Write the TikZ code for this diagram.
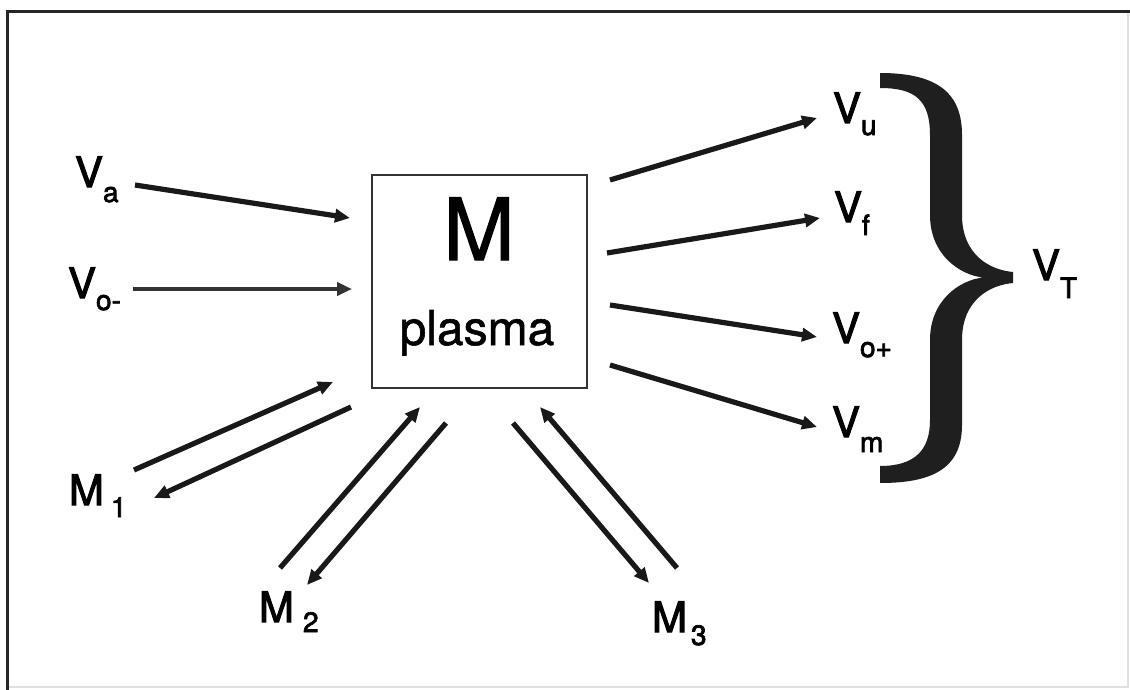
\documentclass[tikz,border=0pt]{standalone}
\usepackage{fontspec}
\setmainfont{TeX Gyre Heros}
\newfontfamily\medfont[FakeBold=2.5]{TeX Gyre Heros}
\newfontfamily\boxfont[FakeBold=1.2]{TeX Gyre Heros}
\usetikzlibrary{arrows.meta}
\newcommand{\sublab}[4]{{\medfont\fontsize{42}{42}\selectfont #1}\kern#4\raisebox{-#3}{\medfont\fontsize{28}{28}\selectfont #2}}
\begin{document}
\begin{tikzpicture}[x=1pt,y=-1pt,
  flow/.style={line width=5.2pt, black!90, -{Triangle[length=15pt,width=13pt]}},
  lab/.style={anchor=base west, inner sep=0pt, outer sep=0pt},
  framedark/.style={line width=3pt, black!85},
  framelight/.style={line width=1.5pt, black!12},
  bracefill/.style={fill=black!88}]
\useasboundingbox (0,0) rectangle (1130,690);
\fill[white] (0,0) rectangle (1130,690);
% frame
\draw[framelight] (1128,12) -- (1128,687) -- (7,687);
\draw[framedark] (7,690) -- (7,12) -- (1130,12);
% central box
\node[draw=black!80, line width=1.4pt, minimum width=215pt, minimum height=213pt, inner sep=0pt] (box) at (479.5,281.5) {};
\node[anchor=base, inner sep=0pt] (bigM) at (479,260) {\boxfont\fontsize{86}{86}\selectfont M};
\node[anchor=base, inner sep=0pt] (plasma) at (477,345) {\boxfont\fontsize{48}{48}\selectfont plasma};
% labels
\node[lab] (Va) at (75,187) {\sublab{V}{a}{15pt}{0pt}};
\node[lab] (Vom) at (68,298) {\sublab{V}{o-}{12pt}{0pt}};
\node[lab] (Vu) at (833,123) {\sublab{V}{u}{12pt}{0pt}};
\node[lab] (Vf) at (834,222) {\sublab{V}{f}{13pt}{0pt}};
\node[lab] (Vop) at (832,343) {\sublab{V}{o+}{14pt}{0pt}};
\node[lab] (Vm) at (832,437) {\sublab{V}{m}{15pt}{0pt}};
\node[lab] (VT) at (1032,280) {\sublab{V}{T}{18pt}{0pt}};
\node[lab] (M1) at (69,505) {\sublab{M}{1}{12pt}{7pt}};
\node[lab] (M2) at (259,622) {\sublab{M}{2}{10pt}{9pt}};
\node[lab] (M3) at (652,632) {\sublab{M}{3}{13pt}{4pt}};
% arrow end points
\coordinate (a1) at (135,185);  \coordinate (a2) at (350,218);
\coordinate (b1) at (133,289);  \coordinate (b2) at (352,289);
\coordinate (u1) at (610,180);  \coordinate (u2) at (817,118);
\coordinate (f1) at (607,253);  \coordinate (f2) at (820,218);
\coordinate (p1) at (610,305);  \coordinate (p2) at (817,337);
\coordinate (m1) at (610,365);  \coordinate (m2) at (817,427);
\coordinate (c1) at (134,470);  \coordinate (c2) at (333,382);
\coordinate (d1) at (351,407);  \coordinate (d2) at (154,498);
\coordinate (e1) at (280,568);  \coordinate (e2) at (420,407);
\coordinate (g1) at (446,423);  \coordinate (g2) at (307,585);
\coordinate (h1) at (513,423);  \coordinate (h2) at (649,583);
\coordinate (k1) at (677,568);  \coordinate (k2) at (540,407);
% arrows
\draw[flow] (a1) -- (a2);
\draw[flow, line width=4.6pt, black!80] (b1) -- (b2);
\draw[flow] (u1) -- (u2);
\draw[flow] (f1) -- (f2);
\draw[flow] (p1) -- (p2);
\draw[flow] (m1) -- (m2);
\draw[flow] (c1) -- (c2);
\draw[flow] (d1) -- (d2);
\draw[flow] (e1) -- (e2);
\draw[flow] (g1) -- (g2);
\draw[flow] (h1) -- (h2);
\draw[flow] (k1) -- (k2);
% brace
\fill[bracefill] (880,73)
  .. controls (940,73) and (962,95) .. (962,135)
  -- (962,215)
  .. controls (962,255) and (990,270) .. (1013,272)
  -- (1013,283)
  .. controls (990,285) and (962,300) .. (962,340)
  -- (962,425)
  .. controls (962,470) and (930,483) .. (880,483)
  -- (880,466)
  .. controls (915,466) and (930,450) .. (930,420)
  -- (930,340)
  .. controls (930,300) and (960,280) .. (983,277.5)
  .. controls (960,275) and (930,255) .. (930,215)
  -- (930,135)
  .. controls (930,100) and (915,88) .. (880,88)
  -- cycle;
\end{tikzpicture}
\end{document}
